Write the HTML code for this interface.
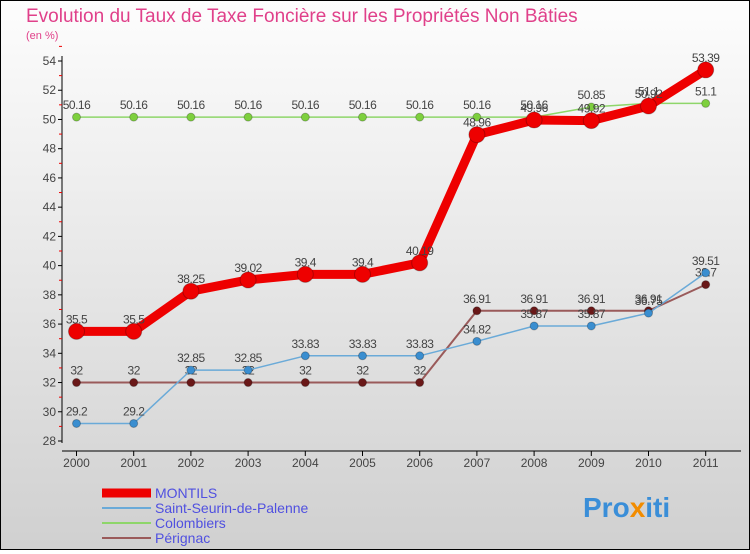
<!DOCTYPE html>
<html><head><meta charset="utf-8">
<style>
body{margin:0;width:750px;height:550px;overflow:hidden;font-family:"Liberation Sans",sans-serif;}
#wrap{position:relative;width:748px;height:548px;border:1px solid #000;background:linear-gradient(#fdfdfd,#d0d0d0);}
</style></head><body>
<div id="wrap">
<svg id="chart" width="748" height="548" font-family="Liberation Sans, sans-serif">
<text x="25" y="21" font-size="19" fill="#e0408a">Evolution du Taux de Taxe Foncière sur les Propriétés Non Bâties</text>
<text x="25" y="38" font-size="11" fill="#e0408a">(en %)</text>
<g id="axes"></g><g id="series"></g><g id="legend"></g>
<text x="582" y="516" font-size="28" font-weight="bold" fill="#3a8ed8">Pro<tspan fill="#f28c00">x</tspan>iti</text>
</svg>
</div>
<script>
const years=[2000,2001,2002,2003,2004,2005,2006,2007,2008,2009,2010,2011];
const yTicks=[28,30,32,34,36,38,40,42,44,46,48,50,52,54];
const montils=[35.5,35.5,38.25,39.02,39.4,39.4,40.19,48.96,49.96,49.92,50.92,53.39];
const saintSeurin=[29.2,29.2,32.85,32.85,33.83,33.83,33.83,34.82,35.87,35.87,36.75,39.51];
const colombiers=[50.16,50.16,50.16,50.16,50.16,50.16,50.16,50.16,50.16,50.85,51.1,51.1];
const perignac=[32,32,32,32,32,32,32,36.91,36.91,36.91,36.91,38.7];
const seriesNames=["MONTILS","Saint-Seurin-de-Palenne","Colombiers","Pérignac"];
const NS="http://www.w3.org/2000/svg";
const X=i=>75.5+i*57.2;
const Y=v=>440-(v-28)*(380/26);
function mk(tag,attrs,parent,text){const e=document.createElementNS(NS,tag);for(const k in attrs)e.setAttribute(k,attrs[k]);if(text!==undefined)e.textContent=text;parent.appendChild(e);return e;}
const axes=document.getElementById('axes');
const yl=mk('line',{x1:61,y1:55,x2:61,y2:442,stroke:'#000'},axes);

yTicks.forEach(t=>{mk('line',{x1:57,x2:61,y1:Y(t),y2:Y(t),stroke:'#000'},axes);
 mk('line',{x1:58,x2:61,y1:Y(t+1),y2:Y(t+1),stroke:'#e00'},axes);
 const tx=mk('text',{x:55,y:Y(t)+4,'font-size':12,'text-anchor':'end',fill:'#444'},axes,t);
 });
const xl=mk('line',{x1:61,y1:450,x2:740,y2:450,stroke:'#000'},axes);

years.forEach((yr,i)=>{mk('line',{x1:X(i),x2:X(i),y1:450,y2:455,stroke:'#000'},axes);
 const tx=mk('text',{x:X(i),y:466,'font-size':12,'text-anchor':'middle',fill:'#444'},axes,yr);
 });
const sg=document.getElementById('series');
function draw(vals,color,dot,w,r,name){
 const g=mk('g',{},sg);
 
 mk('polyline',{points:vals.map((v,i)=>X(i)+','+Y(v)).join(' '),fill:'none',stroke:color,'stroke-width':w,'stroke-linejoin':'round'},g);
 vals.forEach((v,i)=>{const c=mk('circle',{cx:X(i),cy:Y(v),r:r,fill:dot,stroke:'rgba(0,0,0,0.25)'},g);
  
  const t=mk('text',{x:X(i),y:Y(v)-8,'font-size':12,'text-anchor':'middle',fill:'#444','letter-spacing':'-0.5'},g,String(v));
  });
}
draw(colombiers,'#8ed66a','#7ed03e',1.5,4,'colombiers');
draw(perignac,'#9a5a5a','#6a1818',2,4,'perignac');
draw(saintSeurin,'#6aaad8','#3a8ed0',1.5,4,'saint-seurin');
draw(montils,'#ee0000','#ee0000',9,8,'montils');
const lg=document.getElementById('legend');
const lc=[['#ee0000',9],['#6aaad8',2],['#8ed66a',2],['#9a5a5a',2]];
seriesNames.forEach((n,i)=>{const y=492+i*15;
 const g=mk('g',{},lg);
 mk('line',{x1:101,x2:150,y1:y,y2:y,stroke:lc[i][0],'stroke-width':lc[i][1]},g);
 mk('text',{x:154,y:y+5,'font-size':14,fill:'#5050e0'},g,n);});
</script>
</body></html>
